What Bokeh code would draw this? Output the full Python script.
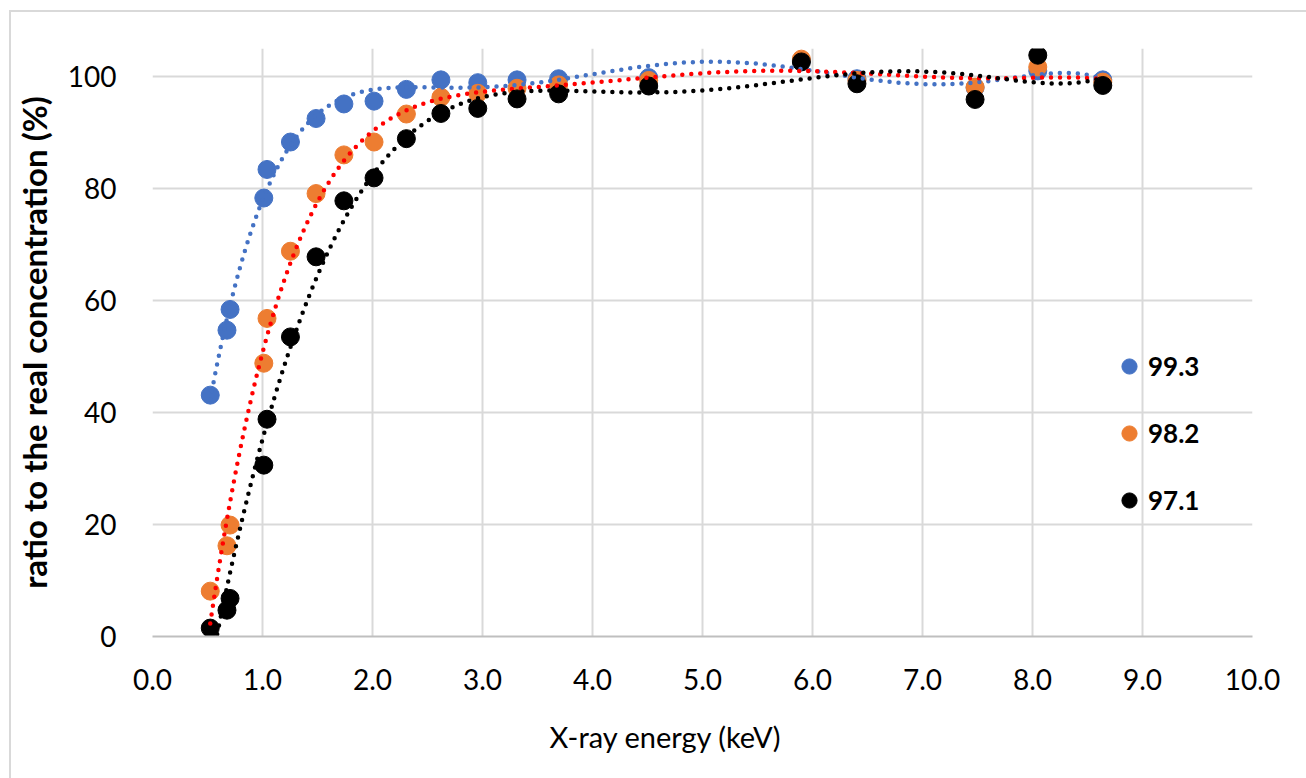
import numpy as np
from bokeh.plotting import figure
from bokeh.models import (Legend, LegendItem, SingleIntervalTicker,
                          PrintfTickFormatter, Title)
from bokeh.embed import file_html
from bokeh.resources import INLINE

# X-ray line energies (keV) of the measured elements
energy = [0.525, 0.677, 0.705, 1.012, 1.041, 1.254, 1.487, 1.740, 2.014, 2.308,
          2.622, 2.957, 3.314, 3.692, 4.511, 5.899, 6.404, 7.478, 8.048, 8.639]

# ratio to the real concentration (%) for each sample
ratio_993 = [43.1, 54.7, 58.4, 78.3, 83.4, 88.3, 92.5, 95.1, 95.6, 97.7,
             99.4, 98.9, 99.4, 99.6, 99.8, 102.8, 99.6, 98.0, 101.0, 99.4]
ratio_982 = [8.1, 16.2, 19.9, 48.8, 56.8, 68.8, 79.1, 86.0, 88.3, 93.3,
             96.3, 97.0, 97.9, 98.5, 99.3, 103.1, 99.3, 98.1, 101.7, 99.0]
ratio_971 = [1.5, 4.7, 6.8, 30.6, 38.8, 53.5, 67.8, 77.8, 81.9, 88.9,
             93.4, 94.3, 96.0, 96.9, 98.3, 102.6, 98.7, 95.9, 103.8, 98.4]

series_labels = ["99.3", "98.2", "97.1"]
marker_colors = ["#4472C4", "#ED7D31", "#000000"]
trend_colors = ["#4472C4", "#FF0000", "#000000"]

FONT = "Lato"

p = figure(width=1306, height=778, output_backend="svg", toolbar_location=None,
           x_range=(0, 10), y_range=(0, 105),
           min_border_left=152, min_border_right=54,
           min_border_top=48, min_border_bottom=142)
p.border_fill_color = None
p.background_fill_color = "white"
p.outline_line_color = None
p.styles = {
    "background": "linear-gradient(#d9d9d9, #d9d9d9) 9px 10px / 2px 100% no-repeat, "
                  "linear-gradient(#d9d9d9, #d9d9d9) 9px 10px / 100% 2px no-repeat, white"
}

# axes
p.xaxis.ticker = SingleIntervalTicker(interval=1)
p.xaxis.formatter = PrintfTickFormatter(format="%.1f")
p.yaxis.ticker = SingleIntervalTicker(interval=20)
for ax in (p.xaxis, p.yaxis):
    ax.major_tick_line_color = None
    ax.minor_tick_line_color = None
    ax.major_tick_out = 0
    ax.major_tick_in = 0
    ax.major_label_text_font = FONT
    ax.major_label_text_font_size = "28px"
    ax.major_label_text_color = "black"
p.xaxis.axis_line_color = "#bfbfbf"
p.xaxis.axis_line_width = 2
p.yaxis.axis_line_color = None
p.xaxis.major_label_standoff = 28
p.yaxis.major_label_standoff = 32

p.yaxis.axis_label = "ratio to the real concentration (%)"
p.yaxis.axis_label_text_font = FONT
p.yaxis.axis_label_text_font_style = "bold"
p.yaxis.axis_label_text_font_size = "33px"
p.yaxis.axis_label_text_color = "black"
p.yaxis.axis_label_standoff = 11

p.add_layout(Title(text="X-ray energy (keV)", align="left", offset=397,
                   text_font=FONT, text_font_size="29px",
                   text_font_style="normal", text_color="black", standoff=48),
             "below")

p.xgrid.grid_line_color = "#d9d9d9"
p.ygrid.grid_line_color = "#d9d9d9"
p.xgrid.grid_line_width = 2
p.ygrid.grid_line_width = 2

# measured points
series = [ratio_993, ratio_982, ratio_971]
scatters = []
for vals, col in zip(series, marker_colors):
    r = p.scatter(energy, vals, size=18, fill_color=col, line_color=col)
    scatters.append(r)

# 6th-order polynomial trendlines through each series
xs = np.linspace(min(energy), max(energy), 500)
for vals, col in zip(series, trend_colors):
    coef = np.polyfit(energy, vals, 6)
    p.line(xs, np.polyval(coef, xs), line_color=col, line_width=4.5,
           line_dash="0 9", line_cap="round")

legend = Legend(items=[LegendItem(label=lab, renderers=[r])
                       for lab, r in zip(series_labels, scatters)],
                location=(958, 116), orientation="vertical",
                glyph_width=38, glyph_height=40, spacing=27, padding=0,
                margin=0, label_standoff=0,
                label_text_font=FONT, label_text_font_style="bold",
                label_text_font_size="26px", label_text_color="black",
                border_line_color=None, background_fill_alpha=0)
p.add_layout(legend)

open("out.html", "w").write(file_html(p, INLINE))
